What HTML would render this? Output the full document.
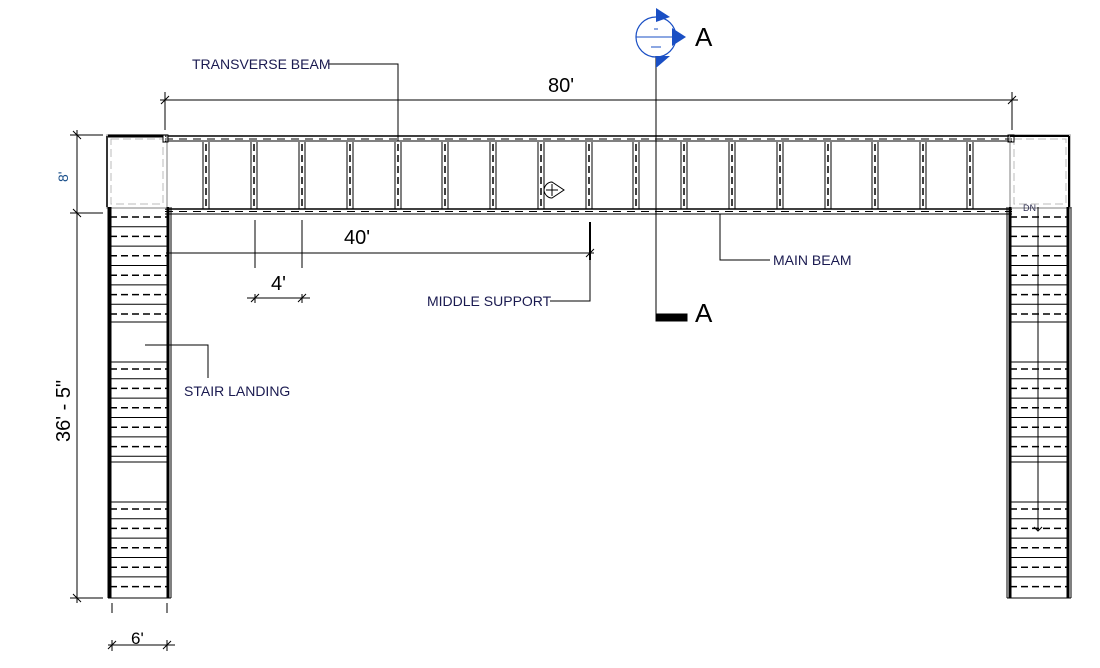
<!DOCTYPE html>
<html><head><meta charset="utf-8"><style>
html,body{margin:0;padding:0;background:#fff;}
svg{display:block;font-family:"Liberation Sans",sans-serif;}
.t{font-family:"Liberation Sans",sans-serif;}
</style></head><body>
<svg id="s" width="1100" height="668" viewBox="0 0 1100 668" xmlns="http://www.w3.org/2000/svg">
<rect width="1100" height="668" fill="#fff"/>
<g id="g" stroke="#000" fill="none" stroke-width="1">
<line x1="165" y1="136" x2="1012" y2="136" stroke-width="1.5"/>
<line x1="165" y1="141" x2="1012" y2="141"/>
<line x1="165" y1="139" x2="1012" y2="139" stroke-dasharray="8,6"/>
<line x1="165" y1="209" x2="1012" y2="209" stroke-width="1.5"/>
<line x1="165" y1="214" x2="1012" y2="214"/>
<line x1="165" y1="211.5" x2="1012" y2="211.5" stroke-dasharray="8,6"/>
<rect x="107" y="135" width="60" height="73" stroke="#aaa" stroke-width="1.5"/>
<rect x="111" y="139" width="52" height="65" stroke="#bbb" stroke-dasharray="8,4"/>
<line x1="108" y1="136" x2="163" y2="136" stroke-width="3"/>
<line x1="107" y1="136" x2="107" y2="207" stroke-width="1.5"/>
<rect x="1010" y="135" width="60" height="73" stroke="#aaa" stroke-width="1.5"/>
<rect x="1014" y="139" width="52" height="65" stroke="#bbb" stroke-dasharray="8,4"/>
<line x1="1010" y1="136" x2="1069" y2="136" stroke-width="2"/>
<line x1="1069" y1="136" x2="1069" y2="207" stroke-width="2"/>
<rect x="163" y="135" width="5" height="7"/>
<rect x="1008" y="135" width="6" height="7"/>
<line x1="110" y1="207" x2="110" y2="598" stroke-width="3"/>
<line x1="168" y1="207" x2="168" y2="598" stroke-width="3"/>
<line x1="108" y1="207" x2="108" y2="598"/>
<line x1="171" y1="207" x2="171" y2="598"/>
<line x1="108" y1="598" x2="171" y2="598"/>
<line x1="1010" y1="207" x2="1010" y2="598" stroke-width="3"/>
<line x1="1068" y1="207" x2="1068" y2="598" stroke-width="3"/>
<line x1="1007" y1="207" x2="1007" y2="598"/>
<line x1="1071" y1="207" x2="1071" y2="598"/>
<line x1="1007" y1="598" x2="1071" y2="598"/>
<line x1="1038" y1="207" x2="1038" y2="530"/>
<polyline points="1034,527 1038,531 1042,527"/>
<line x1="110" y1="322" x2="168" y2="322"/><line x1="110" y1="362" x2="168" y2="362"/>
<line x1="110" y1="462" x2="168" y2="462"/><line x1="110" y1="502" x2="168" y2="502"/>
<line x1="1010" y1="322" x2="1068" y2="322"/><line x1="1010" y1="362" x2="1068" y2="362"/>
<line x1="1010" y1="462" x2="1068" y2="462"/><line x1="1010" y1="502" x2="1068" y2="502"/>
<line x1="656" y1="56" x2="656" y2="318"/>
<rect x="656" y="314" width="31" height="7" fill="#000"/>
<line x1="160" y1="100" x2="1018" y2="100"/>
<line x1="165" y1="92" x2="165" y2="130"/><line x1="1012" y1="92" x2="1012" y2="130"/>
<line x1="161" y1="104" x2="169" y2="96"/><line x1="1008" y1="104" x2="1016" y2="96"/>
<line x1="77" y1="130" x2="77" y2="603"/>
<line x1="70" y1="135" x2="103" y2="135"/><line x1="70" y1="213" x2="103" y2="213"/>
<line x1="70" y1="598" x2="103" y2="598"/>
<line x1="73" y1="131" x2="81" y2="139"/><line x1="73" y1="209" x2="81" y2="217"/><line x1="73" y1="594" x2="81" y2="602"/>
<line x1="108" y1="645" x2="175" y2="645"/>
<line x1="112" y1="603" x2="112" y2="613"/><line x1="167" y1="603" x2="167" y2="613"/>
<line x1="112" y1="640" x2="112" y2="651"/><line x1="167" y1="640" x2="167" y2="651"/>
<line x1="108" y1="649" x2="116" y2="641"/><line x1="163" y1="649" x2="171" y2="641"/>
<line x1="166" y1="253" x2="594" y2="253"/>
<line x1="590" y1="222" x2="590" y2="260" stroke-width="2"/>
<line x1="586" y1="257" x2="594" y2="249"/>
<line x1="255" y1="220" x2="255" y2="268"/><line x1="302" y1="220" x2="302" y2="268"/>
<line x1="247" y1="298" x2="310" y2="298"/>
<line x1="255" y1="294" x2="255" y2="303"/><line x1="302" y1="294" x2="302" y2="303"/>
<line x1="251" y1="302" x2="259" y2="294"/><line x1="298" y1="302" x2="306" y2="294"/>
<polyline points="328,64 398,64 398,141"/>
<polyline points="770,260 720,260 720,214"/>
<polyline points="550,301 590,301 590,253"/>
<polyline points="145,345 208,345 208,378"/>
<path d="M544,190 a8,9 0 0 1 8,-8 l12,8 l-12,8 a8,9 0 0 1 -8,-8 z" fill="#fff"/>
<line x1="546" y1="190" x2="558" y2="190"/><line x1="552" y1="184" x2="552" y2="196"/>
</g>
<g stroke="#1a4fc4" fill="none">
<circle cx="656" cy="37" r="20" stroke-width="1.2"/>
<line x1="636" y1="37" x2="676" y2="37"/>
<line x1="654" y1="29" x2="658" y2="29"/><line x1="651" y1="47" x2="661" y2="47"/>
</g>
<g fill="#1a4fc4">
<polygon points="656,8 670,17 656,22"/>
<polygon points="672,28 686,37 672,46"/>
<polygon points="656,56 670,56 656,68"/>
</g>
<g class="t" font-size="14" fill="#1a1a50">
<text x="192" y="69">TRANSVERSE BEAM</text>
<text x="773" y="265">MAIN BEAM</text>
<text x="427" y="306">MIDDLE SUPPORT</text>
<text x="184" y="396">STAIR LANDING</text>
</g>
<g class="t" fill="#000" font-size="20">
<text x="548" y="92">80'</text>
<text x="344" y="244">40'</text>
<text x="271" y="290">4'</text>
<text x="131" y="644" font-size="17">6'</text>
<text x="695" y="46" font-size="26">A</text>
<text x="695" y="322" font-size="26">A</text>
<text transform="translate(70,442) rotate(-90)">36' - 5"</text>
<text transform="translate(68,182) rotate(-90)" font-size="14" fill="#1a4f8a">8'</text>
<text x="1023" y="211" font-size="9" fill="#335">DN</text>
</g>
</svg>
<script>
var g=document.getElementById('g'),NS='http://www.w3.org/2000/svg';
function L(x1,y1,x2,y2,a){var l=document.createElementNS(NS,'line');l.setAttribute('x1',x1);l.setAttribute('y1',y1);l.setAttribute('x2',x2);l.setAttribute('y2',y2);for(var k in a)l.setAttribute(k,a[k]);g.appendChild(l);}
var posts=[206,254,302,350,398,445,493,541,589,636,684,732,780,828,875,923,970];
posts.forEach(function(x){L(x-3,142,x-3,209,{});L(x+3,142,x+3,209,{});L(x,144,x,207,{'stroke-dasharray':'7,4','stroke-width':1.5});});
var ranges=[[217,322],[369,462],[509,598]];
[[110,168],[1010,1068]].forEach(function(s){ranges.forEach(function(r){var i=0;for(var y=r[0];y<r[1]-2;y+=9.7,i++){L(s[0],y,s[1],y,i%2==0?{'stroke-dasharray':'7,4','stroke-width':1.5}:{});}});});
</script>
</body></html>
